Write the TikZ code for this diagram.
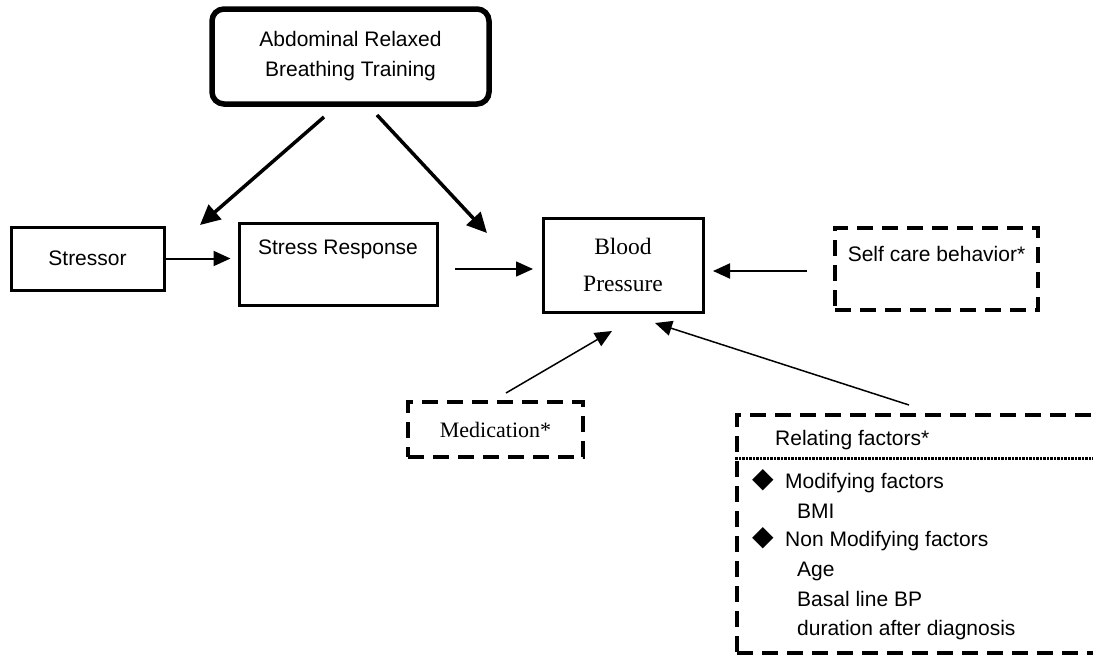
\documentclass[tikz,border=0pt]{standalone}
\usepackage{fontspec}
\setmainfont{Liberation Sans}
\newfontfamily\serifface{Liberation Serif}
\newfontfamily\symface{DejaVu Sans}
\usetikzlibrary{arrows.meta}

\begin{document}
\begin{tikzpicture}[x=1pt, y=-1pt,
        sans_text/.style={font=\fontsize{21}{30}\selectfont},
        serif_text/.style={font=\serifface\fontsize{22}{37}\selectfont},
        solid_box/.style={draw, line width=3pt, inner sep=0pt},
        dash_box/.style={draw, line width=3.5pt, dash pattern=on 16pt off 9pt, inner sep=0pt},
        top_label/.style={anchor=center, yshift=-28pt, sans_text},
        list_text/.style={sans_text, anchor=base west, inner sep=0pt},
        bullet/.style={font=\symface\fontsize{28}{28}\selectfont, inner sep=0pt},
        big_arrow/.style={line width=3.5pt, -{Triangle[length=20pt, width=19pt]}},
        mid_arrow/.style={line width=2pt, -{Triangle[length=17pt, width=15pt]}},
        small_arrow/.style={line width=1.5pt, -{Triangle[length=17pt, width=15pt]}},
        dotted_line/.style={line width=2.5pt, dash pattern=on 2.5pt off 1pt}
    ]
        \useasboundingbox (0,0) rectangle (1093,656);
        \clip (0,0) rectangle (1093,656);

        % Boxes
        \node[solid_box, line width=5.5pt, rounded corners=12pt, minimum width=277pt, minimum height=95pt, align=center, sans_text] (abd) at (350.5,56.5) {Abdominal Relaxed\\Breathing Training};
        \node[solid_box, minimum width=153pt, minimum height=63pt, sans_text] (stressor) at (87.5,258.5) {Stressor};
        \node[solid_box, minimum width=198pt, minimum height=82pt, label={[top_label]north:Stress Response}] (stress_resp) at (338,264) {};
        \node[solid_box, minimum width=160pt, minimum height=94pt, align=center, serif_text, font=\serifface\fontsize{23.5}{37}\selectfont] (bp) at (623,265) {Blood\\Pressure};
        \node[dash_box, minimum width=203pt, minimum height=82pt, label={[top_label]north:Self care behavior*}] (self_care) at (936.5,269) {};
        \node[dash_box, minimum width=175pt, minimum height=55pt, serif_text] (medication) at (495.5,429.5) {Medication*};
        \node[dash_box, minimum width=383pt, minimum height=238pt] (relating) at (928.5,534) {};

        % Relating factors list
        \node[list_text] (rel_title) at (775,445.5) {Relating factors*};
        \draw[dotted_line] ([yshift=-45pt]relating.north west) -- ([yshift=-45pt]relating.north east);
        \node[bullet] (bullet_mod) at (763,480) {◆};
        \node[list_text] (rel_mod) at (785,488) {Modifying factors};
        \node[list_text] (rel_bmi) at (797,518) {BMI};
        \node[bullet] (bullet_non) at (763,538) {◆};
        \node[list_text] (rel_non) at (785,546) {Non Modifying factors};
        \node[list_text] (rel_age) at (797,576) {Age};
        \node[list_text] (rel_basal) at (797,606) {Basal line BP};
        \node[list_text] (rel_dur) at (797,635) {duration after diagnosis};

        % Free arrow ends
        \coordinate (abd_l_from) at (324,117);
        \coordinate (abd_l_to) at (200,225);
        \coordinate (abd_r_from) at (377,115);
        \coordinate (abd_r_to) at (487,233);
        \coordinate (sr_out) at (455,269);
        \coordinate (bp_left) at (533,269);
        \coordinate (self_out) at (807,271);
        \coordinate (bp_right) at (713,271);
        \coordinate (med_out) at (506,393);
        \coordinate (bp_below) at (612,331);
        \coordinate (rel_out) at (909,405);
        \coordinate (bp_below_r) at (655,323);

        % Arrows
        \draw[big_arrow] (abd_l_from) -- (abd_l_to);
        \draw[big_arrow] (abd_r_from) -- (abd_r_to);
        \draw[mid_arrow, shorten >=7pt] (stressor.east) -- (stressor.east -| stress_resp.west);
        \draw[small_arrow] (sr_out) -- (bp_left);
        \draw[mid_arrow] (self_out) -- (bp_right);
        \draw[small_arrow] (med_out) -- (bp_below);
        \draw[small_arrow] (rel_out) -- (bp_below_r);

    \end{tikzpicture}
\end{document}
